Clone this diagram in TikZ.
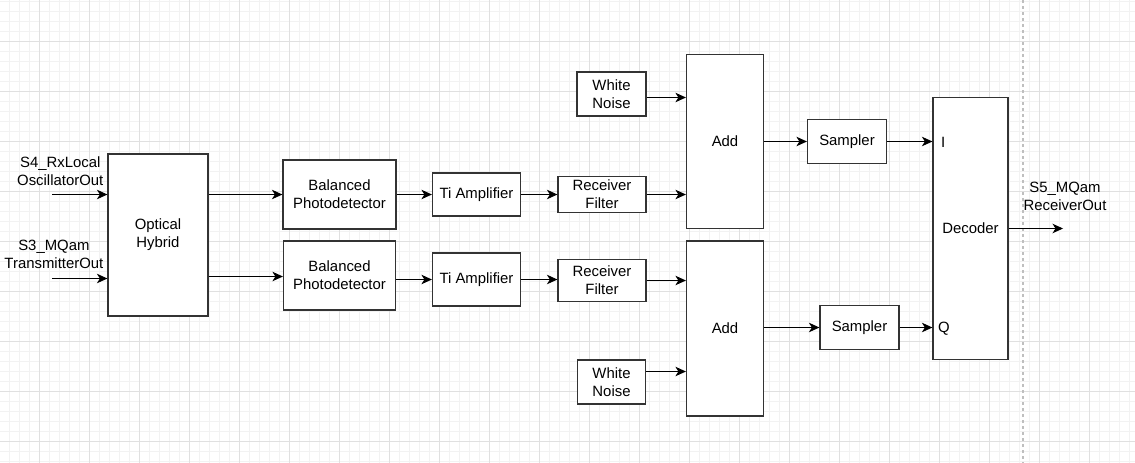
\documentclass[tikz,border=0pt]{standalone}
\usepackage{fontspec}
\setmainfont{Liberation Sans}
\usetikzlibrary{arrows.meta}

\begin{document}
\begin{tikzpicture}[x = 1pt, y = -1pt,
    block/.style = {draw = black!80, line width = 1.2pt, fill = white, inner sep = 0pt, align = center, font = \fontsize{14.9}{17.9}\selectfont},
    lbl/.style = {inner sep = 0pt, align = center, font = \fontsize{14.9}{17.9}\selectfont},
    arr/.style = {draw = black, line width = 1pt, -{Stealth[length = 10.5pt, width = 9.5pt, inset = 3pt]}},
    minorgrid/.style = {draw = black!5, line width = 1pt},
    majorgrid/.style = {draw = black!12, line width = 1pt}]
    \useasboundingbox (0,0) rectangle (1135,463);
    \fill[white] (0,0) rectangle (1135,463);
    % background grid
    \foreach \gx in {-1,9,...,1139} \draw[minorgrid] (\gx,0) -- (\gx,463);
    \foreach \gy in {1,11,...,461} \draw[minorgrid] (0,\gy) -- (1135,\gy);
    \foreach \gx in {39,89,...,1139} \draw[majorgrid] (\gx,0) -- (\gx,463);
    \foreach \gy in {41,91,...,441} \draw[majorgrid] (0,\gy) -- (1135,\gy);
    \draw[black!25, line width = 1.5pt, dash pattern = on 3pt off 3pt] (1023,0) -- (1023,463);

    % blocks
    \node[block, minimum width = 100, minimum height = 162] (oh) at (158,235) {Optical\\Hybrid};
    \node[block, minimum width = 113, minimum height = 69] (bpa) at (339.5,194.5) {Balanced\\Photodetector};
    \node[block, minimum width = 112, minimum height = 69] (bpb) at (339.5,275.5) {Balanced\\Photodetector};
    \node[block, minimum width = 88, minimum height = 43] (tia) at (476.5,194.5) {Ti Amplifier};
    \node[block, minimum width = 88, minimum height = 53] (tib) at (476.5,279.5) {Ti Amplifier};
    \node[block, minimum width = 88, minimum height = 36] (rfa) at (602,194.5) {Receiver\\Filter};
    \node[block, minimum width = 88, minimum height = 42] (rfb) at (602,280.5) {Receiver\\Filter};
    \node[block, minimum width = 69, minimum height = 44] (wna) at (611.5,94) {White\\Noise};
    \node[block, minimum width = 68, minimum height = 44] (wnb) at (611.5,382) {White\\Noise};
    \node[block, minimum width = 77, minimum height = 174] (adda) at (725,141.5) {Add};
    \node[block, minimum width = 77, minimum height = 175] (addb) at (725,328.5) {Add};
    \node[block, minimum width = 79, minimum height = 44] (sma) at (847,141.5) {Sampler};
    \node[block, minimum width = 79, minimum height = 44] (smb) at (859.5,327.5) {Sampler};
    \node[block, minimum width = 75, minimum height = 262] (dec) at (970.5,228.5) {Decoder};
    \node[lbl, anchor = west] (iport) at (941,142) {I};
    \node[lbl, anchor = west] (qport) at (938,328.5) {Q};

    % signal labels
    \coordinate (inlo) at (52,194.5);
    \coordinate (intx) at (52,278.5);
    \coordinate (out) at (1063,228.5);
    \node[lbl, anchor = east] (lolbl) at (103.5,171.5) {S4\_RxLocal\\OscillatorOut};
    \node[lbl, anchor = east] (txlbl) at (103.5,254) {S3\_MQam\\TransmitterOut};
    \node[lbl] (outlbl) at (1065,196.5) {S5\_MQam\\ReceiverOut};

    % connections
    \draw[arr] (inlo) -- (inlo -| oh.west);
    \draw[arr] (intx) -- (intx -| oh.west);
    \draw[arr] (oh.east |- bpa) -- (bpa.west);
    \draw[arr] ([yshift = -1pt]oh.east |- bpb) -- ([yshift = -1pt]bpb.west);
    \draw[arr] (bpa.east) -- (bpa.east -| tia.west);
    \draw[arr] (bpb.east |- tib) -- (tib.west);
    \draw[arr] (tia.east) -- (tia.east -| rfa.west);
    \draw[arr] (tib.east) -- (tib.east -| rfb.west);
    \draw[arr] (rfa.east) -- (rfa.east -| adda.west);
    \draw[arr] (rfb.east) -- (rfb.east -| addb.west);
    \draw[arr] ([yshift = -3.5pt]wna.east) -- ([yshift = -3.5pt]wna.east -| adda.west);
    \draw[arr] ([yshift = 10.5pt]wnb.east) -- ([yshift = 10.5pt]wnb.east -| addb.west);
    \draw[arr] (adda.east) -- (adda.east -| sma.west);
    \draw[arr] (addb.east |- smb) -- (smb.west);
    \draw[arr] (sma.east) -- (sma.east -| dec.west);
    \draw[arr] (smb.east) -- (smb.east -| dec.west);
    \draw[arr] (dec.east) -- (out);
\end{tikzpicture}
\end{document}
